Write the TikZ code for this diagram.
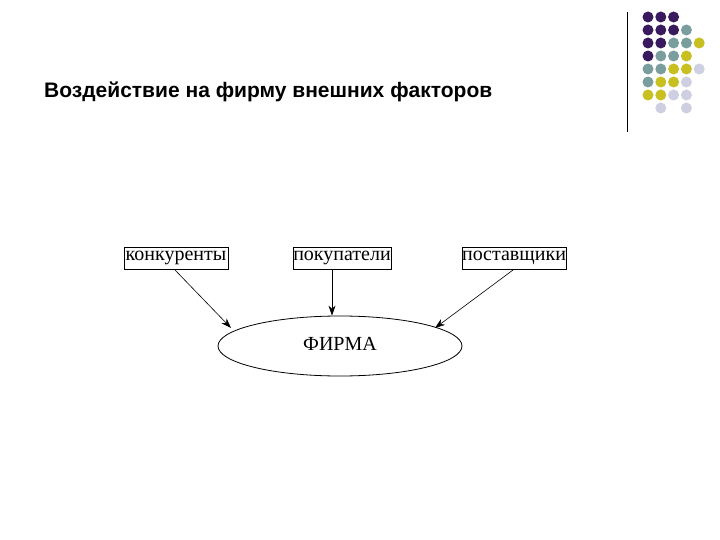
\documentclass[tikz,border=0pt]{standalone}
\usepackage{fontspec}
\setmainfont{Liberation Serif}
\newfontfamily\titlefont{Liberation Sans}
\usetikzlibrary{arrows.meta,shapes.geometric}
\definecolor{cP}{HTML}{3A1A5E}
\definecolor{cT}{HTML}{7A9E9E}
\definecolor{cY}{HTML}{C8C020}
\definecolor{cL}{HTML}{CFCFE2}
\definecolor{cN}{HTML}{FFFFFF}
\tikzset{
  box/.style={draw,thick,inner sep=0pt,minimum height=22pt,font=\fontsize{20}{20}\selectfont},
  conn/.style={semithick,-{Stealth[length=10pt,width=7pt]}},
  dot/.style={circle,inner sep=0pt,minimum size=11pt}
}
\begin{document}
\begin{tikzpicture}[x=1pt,y=-1pt]
\useasboundingbox (0,0) rectangle (720,540);
\fill[white] (0,0) rectangle (720,540);
\node[anchor=west,inner sep=0pt,font=\titlefont\bfseries\fontsize{21}{21}\selectfont] (title) at (44,92) {Воздействие на фирму внешних факторов};
\draw[thick] (627,12) coordinate (l1) -- (627,132) coordinate (l2);
\foreach \r/\row in {0/{P,P,P},1/{P,P,P,T},2/{P,P,T,T,Y},3/{P,T,T,Y},4/{T,T,Y,Y,L},5/{T,Y,Y,L},6/{Y,Y,L,L},7/{N,L,N,L}}{
  \foreach \c [count=\i from 0] in \row {
    \node[dot,fill=c\c] (d\r\i) at (648+12.8*\i,17+13*\r) {};
  }
}
\node[box,minimum width=104pt] (k) at (176,258) {конкуренты};
\node[box,minimum width=98pt] (p) at (342,258) {покупатели};
\node[box,minimum width=103pt] (s) at (514,258) {поставщики};
\node[draw,thick,ellipse,minimum width=244pt,minimum height=60pt,font=\fontsize{20}{20}\selectfont] (f) at (340,346) {\raisebox{4pt}{ФИРМА}};
\coordinate (k1) at (175,270);
\coordinate (k2) at (231,328);
\coordinate (p1) at (332,270);
\coordinate (s1) at (513,270);
\coordinate (s2) at (435,328);
\draw[conn] (k1) -- (k2);
\draw[conn] (p1) -- (f.north -| p1);
\draw[conn] (s1) -- (s2);
\end{tikzpicture}
\end{document}
